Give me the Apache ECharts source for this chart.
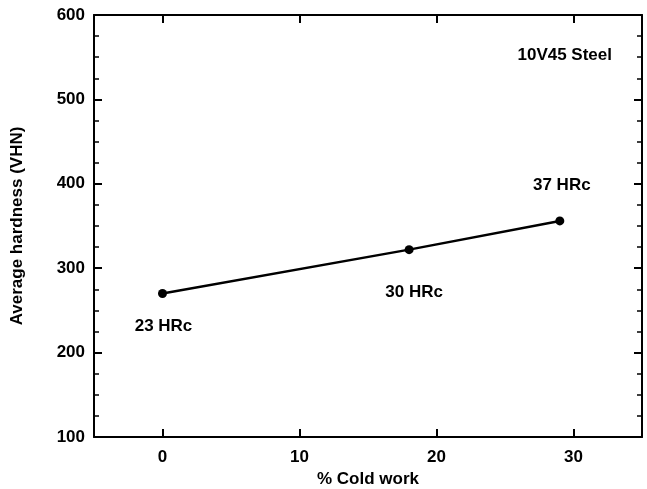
<!DOCTYPE html>
<html>
<head>
<meta charset="utf-8">
<script src="https://cdn.jsdelivr.net/npm/echarts@6/dist/echarts.min.js"></script>
<style>
  html, body { margin: 0; padding: 0; background: #fff; }
  #chart { width: 647px; height: 489px; }
</style>
</head>
<body>
<div id="chart"></div>
<script>
// 数据
var coldWork = [0, 18, 29];
var hardness = [270, 322, 356];
var hrcLabels = ['23 HRc', '30 HRc', '37 HRc'];
var xTicks = [0, 10, 20, 30];

var font = 'Liberation Sans, Arial, sans-serif';
var labelOffsets = [[1, 33], [5, 43], [2, -36]];

var chart = echarts.init(document.getElementById('chart'));

var points = coldWork.map(function(x, i) {
    return {
        value: [x, hardness[i]],
        label: {
            show: true,
            formatter: hrcLabels[i],
            position: 'inside',
            offset: labelOffsets[i],
            color: '#000',
            fontFamily: font,
            fontWeight: 'bold',
            fontSize: 17
        }
    };
});

function xAxisOpt(pos, showLabel) {
    return {
        type: 'value',
        position: pos,
        min: -5,
        max: 35,
        name: showLabel ? '% Cold work' : '',
        nameLocation: 'middle',
        nameGap: 33,
        nameTextStyle: { color: '#000', fontFamily: font, fontWeight: 'bold', fontSize: 17 },
        axisLine: { show: true, onZero: false, lineStyle: { color: '#000', width: 2 } },
        axisTick: { show: true, inside: true, length: 8, customValues: xTicks, lineStyle: { color: '#000', width: 2 } },
        axisLabel: { show: showLabel, customValues: xTicks, margin: 12, color: '#000', fontFamily: font, fontWeight: 'bold', fontSize: 17 },
        splitLine: { show: false }
    };
}

function yAxisOpt(pos, showLabel) {
    return {
        type: 'value',
        position: pos,
        min: 100,
        max: 600,
        interval: 100,
        name: showLabel ? 'Average hardness (VHN)' : '',
        nameLocation: 'middle',
        nameGap: 68,
        nameTextStyle: { color: '#000', fontFamily: font, fontWeight: 'bold', fontSize: 17 },
        axisLine: { show: true, onZero: false, lineStyle: { color: '#000', width: 2 } },
        axisTick: { show: true, inside: true, length: 8, lineStyle: { color: '#000', width: 2 } },
        minorTick: { show: true, splitNumber: 4, length: 5, lineStyle: { color: '#000', width: 1.5 } },
        axisLabel: { show: showLabel, margin: 9, color: '#000', fontFamily: font, fontWeight: 'bold', fontSize: 17 },
        splitLine: { show: false }
    };
}

var option = {
    backgroundColor: '#fff',
    animation: false,
    grid: { left: 94, right: 5, top: 15, bottom: 52, outerBoundsMode: 'none', containLabel: false },
    title: {
        text: '10V45 Steel',
        right: 30,
        top: 42,
        textStyle: { color: '#000', fontFamily: font, fontWeight: 'bold', fontSize: 17 }
    },
    xAxis: [xAxisOpt('bottom', true), xAxisOpt('top', false)],
    yAxis: [yAxisOpt('left', true), yAxisOpt('right', false)],
    series: [{
        type: 'line',
        data: points,
        symbol: 'circle',
        symbolSize: 9,
        itemStyle: { color: '#000' },
        lineStyle: { color: '#000', width: 2.5 }
    }]
};
chart.setOption(option);
</script>
</body>
</html>
